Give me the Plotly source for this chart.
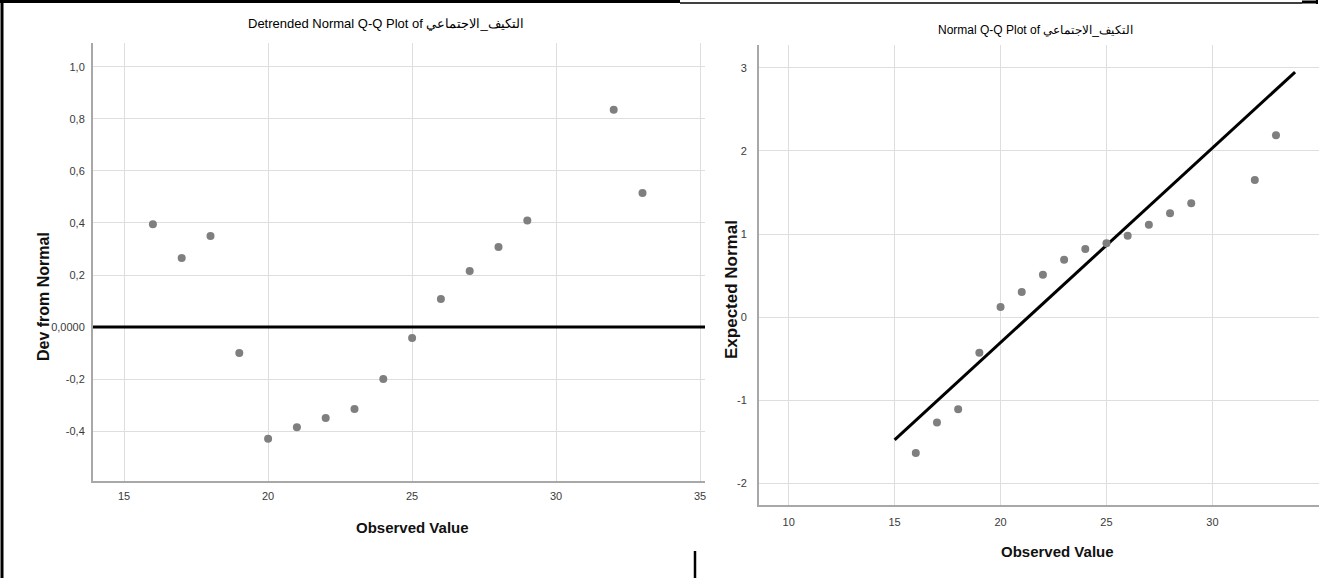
import plotly.graph_objects as go

W, H = 1319, 578

# ---------------- data ----------------
observed = [16, 17, 18, 19, 20, 21, 22, 23, 24, 25, 26, 27, 28, 29, 32, 33]
dev_from_normal = [0.395, 0.265, 0.35, -0.10, -0.43, -0.385, -0.35, -0.315,
                   -0.20, -0.042, 0.108, 0.215, 0.308, 0.41, 0.835, 0.515]
expected_normal = [-1.64, -1.27, -1.11, -0.43, 0.12, 0.30, 0.51, 0.69,
                   0.82, 0.89, 0.98, 1.11, 1.25, 1.37, 1.65, 2.19]
line_x = [15.0, 33.9]
line_y = [-1.48, 2.95]

left_xticks = [15, 20, 25, 30, 35]
left_yticks = [-0.4, -0.2, 0.0, 0.2, 0.4, 0.6, 0.8, 1.0]
left_yticktext = ["-0,4", "-0,2", "0,0000", "0,2", "0,4", "0,6", "0,8", "1,0"]
right_xticks = [10, 15, 20, 25, 30, 35]
right_xticktext = ["10", "15", "20", "25", "30", "35"]
right_yticks = [-2, -1, 0, 1, 2, 3]
right_yticktext = ["-2", "-1", "0", "1", "2", "3"]

title_left = "Detrended Normal Q-Q Plot of التكيف_الاجتماعي"
title_right = "Normal Q-Q Plot of التكيف_الاجتماعي"
xlabel = "Observed Value"
ylabel_left = "Dev from Normal"
ylabel_right = "Expected Normal"

# ---------------- styles ----------------
NARROW = "Liberation Sans Narrow, Arial Narrow, Liberation Sans, Arial, sans-serif"
ARIAL = "Liberation Sans, Arial, sans-serif"
GRID = "#dedede"
AXIS = "#a8a8a8"
MARK = "#7f7f7f"
TICK = "#3a3a3a"


def px(x):
    return x / W


def py(y):
    return 1 - y / H


fig = go.Figure()

fig.add_trace(go.Scatter(x=observed, y=dev_from_normal, mode="markers",
                         marker=dict(color=MARK, size=8), xaxis="x", yaxis="y",
                         showlegend=False, hoverinfo="x+y"))
fig.add_trace(go.Scatter(x=line_x, y=line_y, mode="lines",
                         line=dict(color="black", width=3), xaxis="x2", yaxis="y2",
                         showlegend=False))
fig.add_trace(go.Scatter(x=observed, y=expected_normal, mode="markers",
                         marker=dict(color=MARK, size=8), xaxis="x2", yaxis="y2",
                         showlegend=False, hoverinfo="x+y"))


def axis_common():
    return dict(showgrid=True, gridcolor=GRID, gridwidth=1, zeroline=False,
                showline=True, linecolor=AXIS, linewidth=2, ticks="",
                tickmode="array",
                tickfont=dict(family=NARROW, size=11, color=TICK))


fig.update_layout(
    width=W, height=H,
    margin=dict(l=0, r=0, t=0, b=0),
    paper_bgcolor="white", plot_bgcolor="white",
    showlegend=False,
    xaxis=dict(domain=[px(93), px(705)], range=[13.92, 35.17], tickvals=left_xticks,
               anchor="y", ticklabelstandoff=4, **axis_common()),
    yaxis=dict(domain=[py(481), py(43)], range=[-0.592, 1.092], tickvals=left_yticks,
               ticktext=left_yticktext, anchor="x", ticklabelstandoff=4, **axis_common()),
    xaxis2=dict(domain=[px(759), 1.0], range=[8.6, 35.03], tickvals=right_xticks,
                ticktext=right_xticktext, anchor="y2", ticklabelstandoff=6,
                **axis_common()),
    yaxis2=dict(domain=[py(505), py(45)], range=[-2.265, 3.277], tickvals=right_yticks,
                ticktext=right_yticktext, anchor="x2", ticklabelstandoff=8,
                **axis_common()),
)

# zero reference line in detrended plot
fig.add_shape(type="line", xref="x domain", yref="y", x0=0, x1=1, y0=0, y1=0,
              line=dict(color="black", width=3))

# titles and axis labels
ann = [
    dict(text=title_left, x=px(386), y=py(23), font=dict(family=NARROW, size=13, color="#000")),
    dict(text=title_right, x=px(1035), y=py(30), font=dict(family=NARROW, size=12, color="#000")),
    dict(text="<b>" + xlabel + "</b>", x=px(412), y=py(527), font=dict(family=NARROW, size=15, color="#111")),
    dict(text="<b>" + xlabel + "</b>", x=px(1057), y=py(551), font=dict(family=NARROW, size=15, color="#111")),
    dict(text="<b>" + ylabel_left + "</b>", x=px(43), y=py(297), textangle=-90,
         font=dict(family=ARIAL, size=16, color="#111")),
    dict(text="<b>" + ylabel_right + "</b>", x=px(731), y=py(290), textangle=-90,
         font=dict(family=ARIAL, size=17, color="#111")),
]
for a in ann:
    fig.add_annotation(xref="paper", yref="paper", showarrow=False,
                       xanchor="center", yanchor="middle", **a)

# outer frame pieces
frame = [
    dict(x0=px(2), x1=px(2), y0=0, y1=1, w=3),
    dict(x0=0, x1=px(680), y0=py(1.5), y1=py(1.5), w=3),
    dict(x0=px(680), x1=px(1302), y0=py(3), y1=py(3), w=1.5),
    dict(x0=px(1302), x1=px(1317), y0=py(2), y1=py(2), w=3),
    dict(x0=px(1317), x1=px(1317), y0=py(0), y1=py(4), w=2),
    dict(x0=px(695), x1=px(695), y0=py(551), y1=0, w=2.5),
]
for f in frame:
    fig.add_shape(type="line", xref="paper", yref="paper", x0=f["x0"], x1=f["x1"],
                  y0=f["y0"], y1=f["y1"], line=dict(color="black", width=f["w"]))

fig.write_html("out.html")
